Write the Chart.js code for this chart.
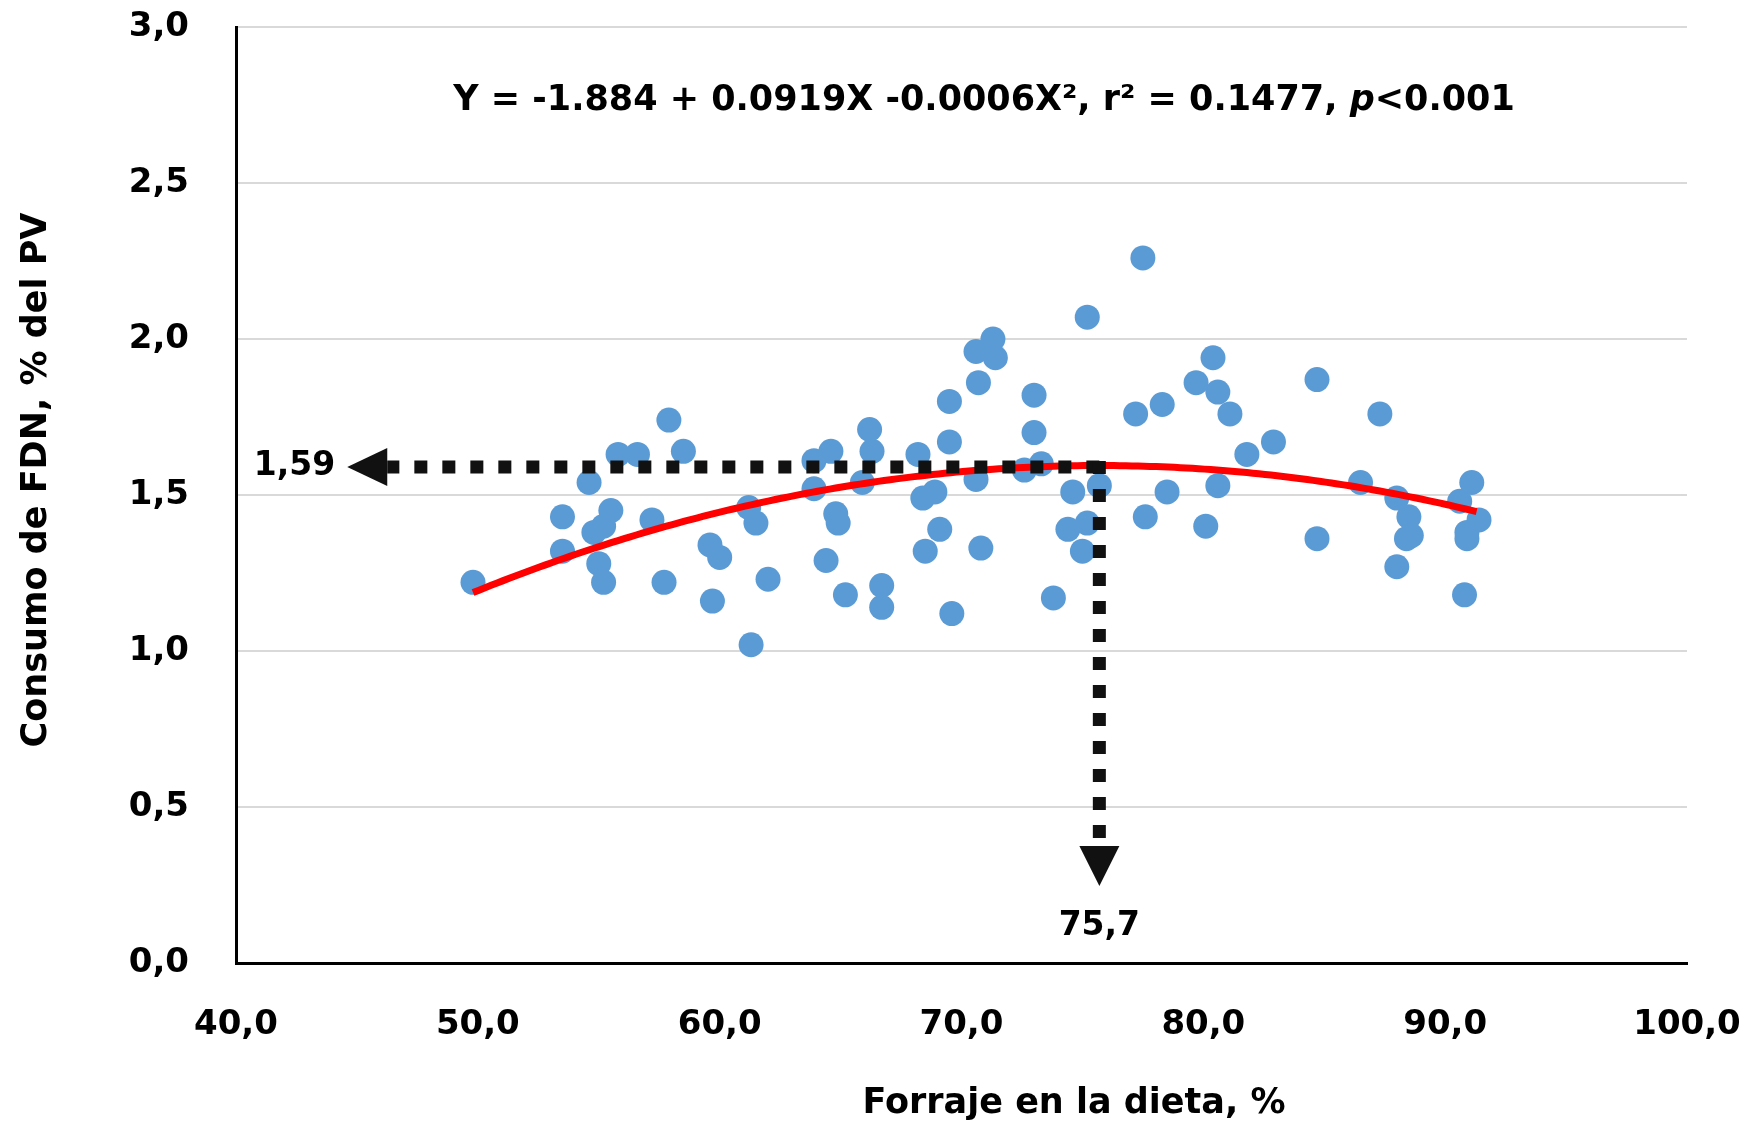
<!DOCTYPE html>
<html lang="es">
<head>
<meta charset="utf-8">
<title>Consumo de FDN según forraje en la dieta</title>
<script src="https://cdn.jsdelivr.net/npm/chart.js@4.4.1/dist/chart.umd.min.js"></script>
<style>
  html, body { margin: 0; padding: 0; background: #fff; }
  #chartWrap { width: 1752px; height: 1126px; }
</style>
</head>
<body>
<div id="chartWrap"><canvas id="fdnChart" width="1752" height="1126"></canvas></div>
<script>
// --- Datos: forraje en la dieta (%) y consumo de FDN (% del PV) ---
const forraje = [
  49.8, 53.5, 53.5, 54.6, 54.8, 55.0, 55.2, 55.2, 55.5, 55.8,
  56.6, 57.2, 57.7, 57.9, 58.5, 59.6, 59.7, 60.0, 61.2, 61.5,
  61.3, 62.0, 63.9, 63.9, 64.4, 64.6, 64.8, 64.9, 65.2, 65.9,
  66.2, 66.3, 66.7, 66.7, 68.2, 68.4, 68.9, 68.5, 69.1, 69.5,
  69.5, 69.6, 70.6, 70.6, 70.7, 70.8, 71.3, 71.4, 72.6, 73.0,
  73.0, 73.3, 73.8, 74.4, 74.6, 75.0, 75.2, 75.2, 75.7, 77.2,
  77.5, 77.6, 78.3, 78.5, 79.7, 80.1, 80.4, 80.6, 80.6, 81.1,
  81.8, 82.9, 84.7, 84.7, 86.5, 87.3, 88.0, 88.0, 88.5, 88.4,
  88.6, 90.6, 90.8, 90.9, 90.9, 91.1, 91.4
];
const consumoFdn = [
  1.22, 1.43, 1.32, 1.54, 1.38, 1.28, 1.22, 1.40, 1.45, 1.63,
  1.63, 1.42, 1.22, 1.74, 1.64, 1.34, 1.16, 1.30, 1.46, 1.41,
  1.02, 1.23, 1.61, 1.52, 1.29, 1.64, 1.44, 1.41, 1.18, 1.54,
  1.71, 1.64, 1.21, 1.14, 1.63, 1.49, 1.51, 1.32, 1.39, 1.80,
  1.67, 1.12, 1.55, 1.96, 1.86, 1.33, 2.00, 1.94, 1.58, 1.82,
  1.70, 1.60, 1.17, 1.39, 1.51, 1.32, 2.07, 1.41, 1.53, 1.76,
  2.26, 1.43, 1.79, 1.51, 1.86, 1.40, 1.94, 1.83, 1.53, 1.76,
  1.63, 1.67, 1.87, 1.36, 1.54, 1.76, 1.27, 1.49, 1.43, 1.36,
  1.37, 1.48, 1.18, 1.38, 1.36, 1.54, 1.42
];

// Ejes
const xTicks = [40, 50, 60, 70, 80, 90, 100];
const yTicks = [0, 0.5, 1.0, 1.5, 2.0, 2.5, 3.0];

// Ajuste cuadrático Y = a + bX - cX^2 y su óptimo
const coefA = -1.884;
const coefB = 0.0919;
const optimoX = 75.7;
const optimoY = 1.59;
// el término cuadrático impreso (-0.0006) está redondeado; se toma del óptimo
const coefC = coefB / (2 * optimoX);

const FONT = "'DejaVu Sans', Verdana, sans-serif";

// curva de ajuste sobre el rango de forraje observado
const xMin = Math.min(...forraje);
const xMax = Math.max(...forraje);
const curva = [];
for (let xv = xMin; xv <= xMax + 1e-9; xv += 0.25) {
  curva.push({ x: xv, y: coefA + coefB * xv - coefC * xv * xv });
}

const puntos = forraje.map((xv, i) => ({ x: xv, y: consumoFdn[i] }));
const fmtComa = (v, dec = 1) => Number(v).toFixed(dec).replace('.', ',');

// --- Flechas punteadas, rótulos y títulos de ejes ---
const anotaciones = {
  id: 'fdnAnotaciones',
  afterDatasetsDraw(chart) {
    const { ctx, scales: { x, y } } = chart;
    const px = x.getPixelForValue(optimoX);
    const py = y.getPixelForValue(optimoY);
    const puntaIzq = x.getPixelForValue(44.6);
    const puntaAbajo = y.getPixelForValue(0.247);
    const largoFlecha = 40;

    ctx.save();
    ctx.strokeStyle = '#111';
    ctx.fillStyle = '#111';
    ctx.lineWidth = 13;
    ctx.lineCap = 'butt';
    ctx.setLineDash([13, 15]);

    ctx.beginPath();
    ctx.moveTo(px, py);
    ctx.lineTo(puntaIzq + largoFlecha, py);
    ctx.stroke();

    ctx.beginPath();
    ctx.moveTo(px, py - 6);
    ctx.lineTo(px, puntaAbajo - largoFlecha);
    ctx.stroke();
    ctx.setLineDash([]);

    // puntas de flecha
    ctx.beginPath();
    ctx.moveTo(puntaIzq, py);
    ctx.lineTo(puntaIzq + largoFlecha, py - 19);
    ctx.lineTo(puntaIzq + largoFlecha, py + 19);
    ctx.closePath();
    ctx.fill();

    ctx.beginPath();
    ctx.moveTo(px, puntaAbajo);
    ctx.lineTo(px - 20, puntaAbajo - largoFlecha);
    ctx.lineTo(px + 20, puntaAbajo - largoFlecha);
    ctx.closePath();
    ctx.fill();

    ctx.fillStyle = '#000';
    ctx.font = 'bold 33px ' + FONT;
    ctx.textBaseline = 'middle';
    ctx.textAlign = 'right';
    ctx.fillText(fmtComa(optimoY, 2), puntaIzq - 12, py);
    ctx.textAlign = 'center';
    ctx.fillText(fmtComa(optimoX), px, puntaAbajo + 40);
    ctx.restore();
  },
  afterDraw(chart) {
    const { ctx } = chart;
    ctx.save();
    ctx.fillStyle = '#000';
    ctx.textBaseline = 'middle';

    // ecuación del ajuste
    const fNormal = 'bold 35px ' + FONT;
    const fItal = 'italic bold 35px ' + FONT;
    const partes = [
      ['Y = -1.884 + 0.0919X -0.0006X\u00B2, r\u00B2 = 0.1477, ', fNormal],
      ['p', fItal],
      ['<0.001', fNormal]
    ];
    let total = 0;
    partes.forEach(([t, f]) => { ctx.font = f; total += ctx.measureText(t).width; });
    let cx = 984 - total / 2;
    ctx.textAlign = 'left';
    partes.forEach(([t, f]) => {
      ctx.font = f;
      ctx.fillText(t, cx, 101);
      cx += ctx.measureText(t).width;
    });

    // títulos de ejes
    ctx.font = 'bold 35px ' + FONT;
    ctx.textAlign = 'center';
    ctx.fillText('Forraje en la dieta, %', 1074, 1104);

    ctx.translate(37, 480);
    ctx.rotate(-Math.PI / 2);
    ctx.fillText('Consumo de FDN, % del PV', 0, 0);
    ctx.restore();
  }
};

const tickFont = { family: FONT, size: 34, weight: 'bold' };

new Chart(document.getElementById('fdnChart'), {
  type: 'scatter',
  data: {
    datasets: [
      {
        type: 'line',
        label: 'Ajuste',
        data: curva,
        borderColor: '#FF0000',
        borderWidth: 7,
        pointRadius: 0,
        fill: false,
        tension: 0,
        order: 0
      },
      {
        label: 'Consumo de FDN',
        data: puntos,
        backgroundColor: '#5B9BD5',
        borderWidth: 0,
        pointRadius: 12.5,
        pointHoverRadius: 12.5,
        order: 1
      }
    ]
  },
  options: {
    responsive: false,
    devicePixelRatio: 1,
    animation: false,
    layout: { padding: { top: 27, right: 65, left: 0, bottom: 0 } },
    plugins: {
      legend: { display: false },
      tooltip: { enabled: false }
    },
    scales: {
      x: {
        type: 'linear',
        min: xTicks[0],
        max: xTicks[xTicks.length - 1],
        afterBuildTicks: s => { s.ticks = xTicks.map(v => ({ value: v })); },
        afterFit: s => {
          s.height = 163;
          s.paddingLeft = 0;
          s.paddingRight = 0;
        },
        ticks: {
          color: '#000',
          font: tickFont,
          padding: 42,
          maxRotation: 0,
          callback: v => fmtComa(v)
        },
        grid: { display: false, drawTicks: false },
        border: { display: true, color: '#000', width: 3 }
      },
      y: {
        min: yTicks[0],
        max: yTicks[yTicks.length - 1],
        afterBuildTicks: s => { s.ticks = yTicks.map(v => ({ value: v })); },
        afterFit: s => {
          s.width = 236;
          s.paddingTop = 0;
          s.paddingBottom = 0;
        },
        ticks: {
          color: '#000',
          font: tickFont,
          padding: 47,
          callback: v => fmtComa(v)
        },
        grid: { color: '#D9D9D9', lineWidth: 2, drawTicks: false },
        border: { display: true, color: '#000', width: 3 }
      }
    }
  },
  plugins: [anotaciones]
});
</script>
</body>
</html>
